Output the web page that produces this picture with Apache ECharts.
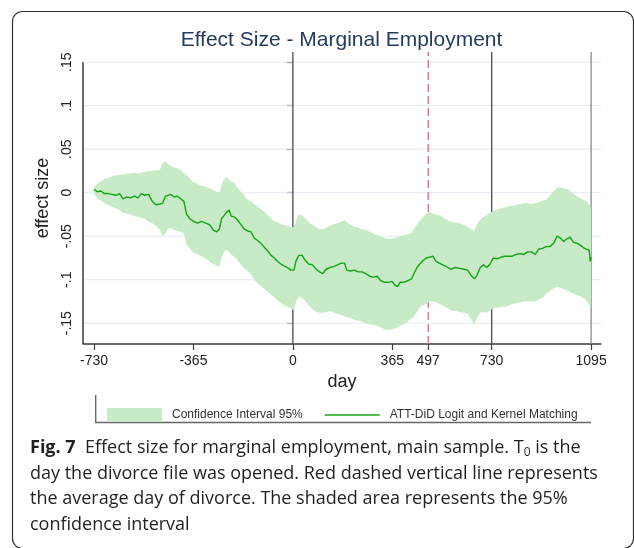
<!DOCTYPE html>
<html>
<head>
<meta charset="utf-8">
<script src="https://cdn.jsdelivr.net/npm/echarts/dist/echarts.min.js"></script>
<style>
html,body{margin:0;padding:0;background:#fff;}
#chart{width:634px;height:548px;}
</style>
</head>
<body>
<div id="chart"></div>
<script>
// ---- data ----
const days = [
  -730,-718,-705,-692,-678,-664,-650,-636,-624,-610,
  -596,-582,-568,-556,-544,-530,-516,-502,-488,-478,
  -468,-458,-448,-436,-424,-412,-400,-390,-378,-365,
  -350,-335,-320,-305,-292,-280,-270,-262,-252,-242,
  -234,-226,-214,-202,-190,-178,-166,-154,-142,-130,
  -118,-104,-92,-80,-68,-56,-44,-32,-20,-8,
  4,12,22,34,46,58,72,86,98,110,
  122,136,150,164,178,190,198,212,226,240,
  254,268,282,296,310,322,336,350,364,374,
  384,394,408,422,436,446,456,466,478,490,
  502,514,526,538,550,564,580,596,612,628,
  642,654,666,676,688,700,712,724,736,750,
  764,778,792,806,820,834,848,862,876,890,
  902,916,930,944,958,970,982,994,1006,1018,
  1030,1042,1054,1066,1078,1088,1092,1095
];
const estimate = [
  0.004,0.001,0.002,-0.001,-0.001,-0.002,-0.003,-0.001,-0.007,-0.005,
  -0.006,-0.004,-0.006,-0.001,-0.003,-0.002,-0.010,-0.014,-0.013,-0.012,
  -0.004,-0.003,-0.002,-0.005,-0.004,-0.007,-0.010,-0.025,-0.030,-0.033,
  -0.035,-0.033,-0.035,-0.037,-0.043,-0.045,-0.042,-0.030,-0.026,-0.022,
  -0.020,-0.027,-0.028,-0.032,-0.037,-0.042,-0.044,-0.045,-0.052,-0.055,
  -0.058,-0.063,-0.067,-0.072,-0.075,-0.079,-0.082,-0.084,-0.086,-0.089,
  -0.089,-0.078,-0.072,-0.072,-0.078,-0.082,-0.083,-0.088,-0.091,-0.093,
  -0.088,-0.086,-0.085,-0.083,-0.081,-0.081,-0.089,-0.090,-0.089,-0.091,
  -0.091,-0.093,-0.096,-0.097,-0.096,-0.101,-0.103,-0.103,-0.102,-0.106,
  -0.108,-0.103,-0.103,-0.101,-0.099,-0.092,-0.086,-0.082,-0.078,-0.075,
  -0.074,-0.073,-0.079,-0.081,-0.083,-0.085,-0.088,-0.086,-0.087,-0.088,
  -0.089,-0.095,-0.099,-0.095,-0.086,-0.083,-0.086,-0.082,-0.075,-0.076,
  -0.074,-0.073,-0.073,-0.073,-0.071,-0.070,-0.071,-0.068,-0.068,-0.071,
  -0.065,-0.064,-0.062,-0.062,-0.058,-0.050,-0.052,-0.056,-0.053,-0.051,
  -0.057,-0.058,-0.060,-0.063,-0.065,-0.066,-0.079,-0.074
];
const ciLower = [
  -0.001,-0.006,-0.009,-0.012,-0.014,-0.016,-0.018,-0.020,-0.023,-0.024,
  -0.025,-0.027,-0.028,-0.029,-0.030,-0.033,-0.035,-0.038,-0.043,-0.050,
  -0.047,-0.041,-0.041,-0.043,-0.044,-0.045,-0.047,-0.060,-0.065,-0.069,
  -0.071,-0.073,-0.076,-0.079,-0.082,-0.084,-0.085,-0.075,-0.067,-0.066,
  -0.068,-0.071,-0.074,-0.078,-0.083,-0.087,-0.090,-0.094,-0.100,-0.104,
  -0.107,-0.111,-0.114,-0.117,-0.120,-0.124,-0.127,-0.129,-0.131,-0.133,
  -0.135,-0.125,-0.119,-0.121,-0.125,-0.129,-0.134,-0.137,-0.138,-0.138,
  -0.137,-0.136,-0.138,-0.139,-0.141,-0.142,-0.143,-0.144,-0.146,-0.147,
  -0.148,-0.150,-0.151,-0.152,-0.153,-0.155,-0.157,-0.158,-0.157,-0.156,
  -0.155,-0.153,-0.151,-0.148,-0.145,-0.142,-0.137,-0.132,-0.129,-0.128,
  -0.125,-0.125,-0.126,-0.128,-0.130,-0.132,-0.135,-0.136,-0.137,-0.138,
  -0.139,-0.145,-0.152,-0.144,-0.138,-0.137,-0.138,-0.135,-0.133,-0.132,
  -0.131,-0.131,-0.130,-0.128,-0.127,-0.126,-0.125,-0.125,-0.125,-0.125,
  -0.123,-0.121,-0.116,-0.113,-0.110,-0.108,-0.109,-0.111,-0.112,-0.114,
  -0.116,-0.118,-0.119,-0.121,-0.124,-0.129,-0.131,-0.133
];
const ciUpper = [
  0.005,0.011,0.013,0.016,0.017,0.019,0.020,0.020,0.021,0.022,
  0.022,0.023,0.022,0.023,0.024,0.025,0.025,0.026,0.026,0.034,
  0.036,0.033,0.031,0.029,0.028,0.026,0.022,0.020,0.016,0.012,
  0.010,0.008,0.007,0.005,0.003,0.001,0.000,0.009,0.016,0.018,
  0.015,0.013,0.011,0.005,0.001,-0.003,-0.008,-0.010,-0.013,-0.016,
  -0.019,-0.022,-0.026,-0.029,-0.033,-0.034,-0.036,-0.037,-0.038,-0.039,
  -0.040,-0.032,-0.025,-0.026,-0.030,-0.034,-0.037,-0.040,-0.042,-0.042,
  -0.040,-0.038,-0.036,-0.035,-0.033,-0.032,-0.034,-0.037,-0.039,-0.040,
  -0.042,-0.043,-0.045,-0.047,-0.049,-0.050,-0.052,-0.053,-0.053,-0.052,
  -0.051,-0.050,-0.049,-0.048,-0.046,-0.041,-0.036,-0.032,-0.028,-0.024,
  -0.022,-0.024,-0.025,-0.026,-0.028,-0.031,-0.033,-0.034,-0.035,-0.037,
  -0.039,-0.042,-0.044,-0.036,-0.031,-0.028,-0.026,-0.023,-0.021,-0.019,
  -0.018,-0.017,-0.016,-0.015,-0.014,-0.013,-0.012,-0.012,-0.013,-0.012,
  -0.011,-0.009,-0.008,-0.003,0.002,0.006,0.006,0.005,0.004,0.002,
  -0.001,-0.004,-0.006,-0.008,-0.010,-0.013,-0.016,-0.018
];
const xTickValues = [-730, -365, 0, 365, 497, 730, 1095];
const yTickValues = [-0.15, -0.1, -0.05, 0, 0.05, 0.1, 0.15];
const yTickLabels = ['-.15', '-.1', '-.05', '0', '.05', '.1', '.15'];
const solidVerticalLines = [0, 730, 1095];
const divorceDay = 497;

const seriesNames = {band: 'Confidence Interval 95%', line: 'ATT-DiD Logit and Kernel Matching'};
const titleText = 'Effect Size - Marginal Employment';
const xName = 'day';
const yName = 'effect size';

// ---- build ----
const XMIN = -770.4, XMAX = 1131.3, YMIN = -0.1739, YMAX = 0.1617;
const FONT = '"Liberation Sans", Arial, sans-serif';
const CAPFONT = '"Open Sans", "Noto Sans", sans-serif';
const BAND = '#c6ebc6';
const GREEN = '#14a314';

const bandData = days.map((d, i) => [d, ciLower[i], ciUpper[i]]);
const estData = days.map((d, i) => [d, estimate[i]]);

function segSeries(name, pts, style, z) {
  return {name: name, type: 'line', data: pts, symbol: 'none', showSymbol: false, silent: true,
          clip: false, z: z, lineStyle: style, itemStyle: {color: style.color}, emphasis: {disabled: true}};
}
const refSeries = [];
yTickValues.forEach((v, i) => refSeries.push(segSeries('g' + i, [[XMIN, v], [XMAX, v]], {color: '#e3ebf0', width: 1}, 1)));
solidVerticalLines.forEach((v, i) => refSeries.push(segSeries('v' + i, [[v, YMIN], [v, YMAX]],
  {color: i === 2 ? '#8c8c8c' : '#4a4a4a', width: 1.3}, 1)));
refSeries.push(segSeries('vd', [[divorceDay, YMIN], [divorceDay, YMAX]], {color: '#e27d95', width: 1.5, type: [8, 4]}, 1));
refSeries.push(segSeries('yaxis', [[XMIN, yTickValues[yTickValues.length - 1]], [XMIN, YMIN]], {color: '#3a3a3a', width: 1.5}, 1));

const chart = echarts.init(document.getElementById('chart'), null, {renderer: 'canvas'});
chart.setOption({
  animation: false,
  backgroundColor: '#ffffff',
  grid: {left: 83, right: 33, top: 52, bottom: 204, containLabel: false},
  xAxis: {
    type: 'value', min: XMIN, max: XMAX,
    axisLine: {show: true, onZero: false, lineStyle: {color: '#3a3a3a', width: 1.5}},
    axisTick: {show: true, customValues: xTickValues, length: 6, lineStyle: {color: '#3a3a3a', width: 1.2}},
    axisLabel: {customValues: xTickValues, fontSize: 14, color: '#222', margin: 10, fontFamily: FONT,
      formatter: v => String(Math.round(v))},
    splitLine: {show: false},
    name: xName, nameLocation: 'middle', nameGap: 21,
    nameTextStyle: {fontSize: 18, color: '#222', fontFamily: FONT}
  },
  yAxis: {
    type: 'value', min: YMIN, max: YMAX,
    axisLine: {show: false},
    axisTick: {show: true, customValues: yTickValues, length: 6, lineStyle: {color: '#3a3a3a', width: 1.2}},
    axisLabel: {
      customValues: yTickValues, rotate: 90, fontSize: 14, color: '#222', margin: 9, fontFamily: FONT,
      formatter: v => {
        let best = 0;
        yTickValues.forEach((t, i) => { if (Math.abs(t - v) < Math.abs(yTickValues[best] - v)) best = i; });
        return yTickLabels[best];
      }
    },
    splitLine: {show: false},
    name: yName, nameLocation: 'middle', nameRotate: 90, nameGap: 16,
    nameTextStyle: {fontSize: 18, color: '#222', fontFamily: FONT}
  },
  legend: {
    left: 102, top: 403, orient: 'horizontal',
    itemWidth: 55, itemHeight: 14, itemGap: 22, symbolKeepAspect: true,
    textStyle: {fontSize: 12, color: '#333', fontFamily: FONT, padding: [0, 0, 0, 5]},
    data: [
      {name: seriesNames.band, icon: 'rect', itemStyle: {color: BAND}},
      {name: seriesNames.line, icon: 'path://M0,0 L55,0 L55,1.5 L0,1.5 Z', itemStyle: {color: GREEN}}
    ]
  },
  series: refSeries.concat([
    {
      name: seriesNames.band, type: 'custom', data: bandData, silent: true, z: 5,
      itemStyle: {color: BAND},
      encode: {x: 0, y: [1, 2]},
      renderItem: (params, api) => {
        if (params.dataIndex !== 0) return null;
        const upper = days.map((d, i) => api.coord([d, ciUpper[i]]));
        const lower = days.map((d, i) => api.coord([d, ciLower[i]])).reverse();
        return {type: 'polygon', shape: {points: upper.concat(lower)}, style: {fill: BAND}};
      }
    },
    {
      name: seriesNames.line, type: 'line', data: estData, symbol: 'none', showSymbol: false, z: 6,
      lineStyle: {color: GREEN, width: 1.4}, itemStyle: {color: GREEN}
    }
  ]),
  graphic: [
    {type: 'rect', silent: true, z: -10, shape: {x: 12.5, y: 11.5, width: 621, height: 537, r: 10},
     style: {fill: 'none', stroke: '#333', lineWidth: 1.2}},
    {type: 'polyline', silent: true, shape: {points: [[95.7, 395], [95.7, 422.5], [591, 422.5]]},
     style: {fill: 'none', stroke: '#666', lineWidth: 1.4}},
    {type: 'text', silent: true, x: 341.5, y: 40,
     style: {text: titleText, fontSize: 21, fontFamily: FONT, fill: '#263a62', align: 'center', verticalAlign: 'middle'}},
    {type: 'text', silent: true, x: 30, y: 435,
     style: {
       text: '{b|Fig. 7}  Effect size for marginal employment, main sample. T{s|0} is the\nday the divorce file was opened. Red dashed vertical line represents\nthe average day of divorce. The shaded area represents the 95%\nconfidence interval',
       fontSize: 18, fontFamily: CAPFONT, fill: '#231f20', lineHeight: 25.7,
       rich: {
         b: {fontWeight: 'bold', fontSize: 18, fontFamily: CAPFONT, fill: '#231f20', lineHeight: 25.7},
         s: {fontSize: 12, fontFamily: CAPFONT, fill: '#231f20', padding: [10, 0, 0, 0], lineHeight: 25.7}
       }
     }}
  ]
});
</script>
</body>
</html>
